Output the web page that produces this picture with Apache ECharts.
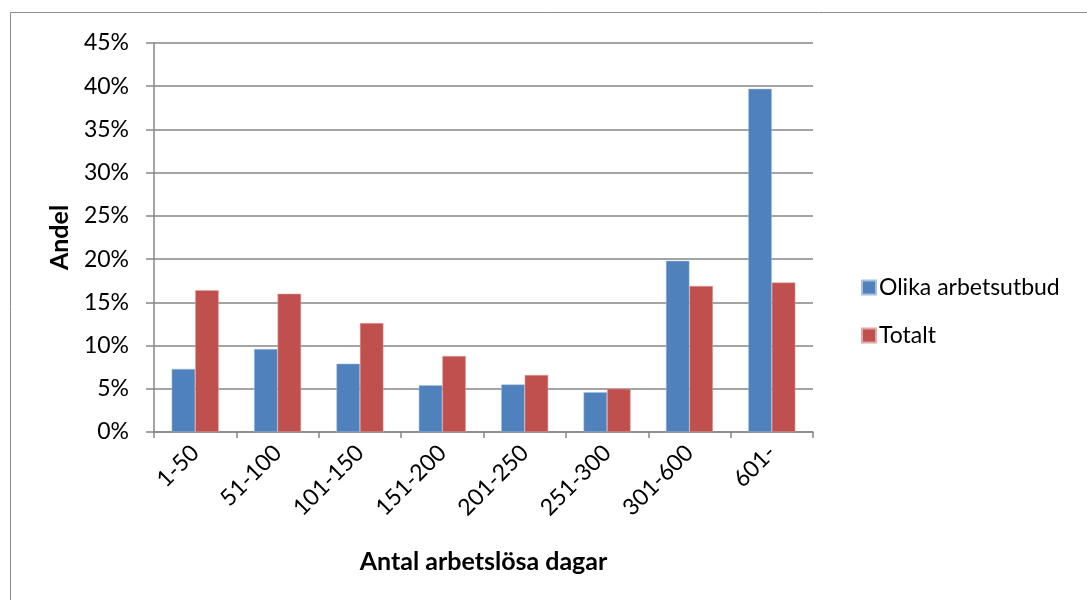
<!DOCTYPE html>
<html><head><meta charset="utf-8">
<script src="https://cdn.jsdelivr.net/npm/echarts@6/dist/echarts.min.js"></script>
<style>html,body{margin:0;padding:0;background:#fff}#c{width:1087px;height:600px}</style>
</head><body><div id="c"></div>
<script>
const categories = ['1-50','51-100','101-150','151-200','201-250','251-300','301-600','601-'];
const olika = [7.3, 9.6, 7.9, 5.4, 5.5, 4.6, 19.8, 39.7];
const totalt = [16.4, 16.0, 12.6, 8.8, 6.6, 5.0, 16.9, 17.3];
const yTicks = [0,5,10,15,20,25,30,35,40,45];
const FONT = 'Lato';
const chart = echarts.init(document.getElementById('c'), null, {renderer:'canvas'});
chart.setOption({
  animation:false,
  graphic:[{type:'rect',shape:{x:10.5,y:12.5,width:1100,height:600},style:{fill:'none',stroke:'#8c8c8c',lineWidth:1},z:-1}],
  grid:{left:154,top:43,right:274,bottom:168,containLabel:false},
  legend:{orient:'vertical',left:856,top:271,itemWidth:14,itemHeight:14,itemGap:25,icon:'rect',
    textStyle:{fontFamily:FONT,fontSize:23,color:'#000',padding:[0,0,0,-2]},
    data:['Olika arbetsutbud','Totalt']},
  xAxis:{type:'category',data:categories,
    axisLine:{lineStyle:{color:'#868686',width:1.5}},
    axisTick:{show:true,length:6,lineStyle:{color:'#868686',width:1.5}},
    axisLabel:{rotate:45,fontFamily:FONT,fontSize:23,color:'#000',margin:17},
    name:'Antal arbetslösa dagar',nameLocation:'middle',nameGap:117,
    nameTextStyle:{fontFamily:FONT,fontSize:25,fontWeight:'bold',color:'#000'}},
  yAxis:{type:'value',min:0,max:45,interval:5,
    axisLine:{show:true,lineStyle:{color:'#868686',width:1.5}},
    axisTick:{show:true,length:8,lineStyle:{color:'#868686',width:1.5}},
    splitLine:{lineStyle:{color:'#868686',width:1.5}},
    axisLabel:{fontFamily:FONT,fontSize:23,color:'#000',margin:25,
      formatter:v=>yTicks.includes(v)?v+'%':''},
    name:'Andel',nameLocation:'middle',nameGap:82,
    nameTextStyle:{fontFamily:FONT,fontSize:25,fontWeight:'bold',color:'#000'}},
  series:[
    {name:'Olika arbetsutbud',type:'bar',data:olika,barWidth:23.5,barGap:'0%',
     itemStyle:{color:'#4f81bd',borderColor:'#a8c0e0',borderWidth:0.5}},
    {name:'Totalt',type:'bar',data:totalt,barWidth:23.5,barGap:'0%',
     itemStyle:{color:'#c0504d',borderColor:'#e0a8a6',borderWidth:0.5}}
  ]
});
</script></body></html>
